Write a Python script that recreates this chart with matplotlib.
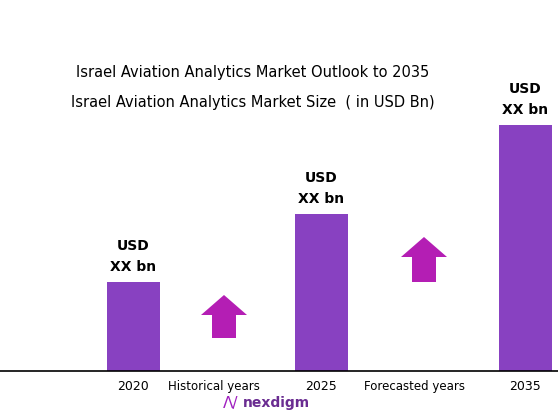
import matplotlib
matplotlib.use("Agg")
import matplotlib.pyplot as plt
from matplotlib.patches import FancyArrow

years = ["2020", "2025", "2035"]
values = [89, 157, 246]
bar_labels = ["USD\nXX bn", "USD\nXX bn", "USD\nXX bn"]
period_labels = ["Historical years", "Forecasted years"]
title1 = "Israel Aviation Analytics Market Outlook to 2035"
title2 = "Israel Aviation Analytics Market Size  ( in USD Bn)"

W, H = 558, 415
base = H - 371
xpos = [133, 321, 525]

fig = plt.figure(figsize=(5.58, 4.15), dpi=100)
ax = fig.add_axes([0, 0, 1, 1])
ax.set_xlim(0, W); ax.set_ylim(0, H); ax.axis("off")

ax.bar(xpos, values, width=53, bottom=base, color="#8841C1")
for x, v, l in zip(xpos, values, bar_labels):
    ax.text(x, base + v + 8, l, ha="center", va="bottom", fontsize=10,
            fontweight="bold", linespacing=1.6)
ax.plot([0, W], [base, base], color="black", lw=1.2)
for x, y in zip(xpos, years):
    ax.text(x, H - 386, y, ha="center", va="center", fontsize=9)
ax.text(214, H - 386, period_labels[0], ha="center", va="center", fontsize=8.5)
ax.text(414, H - 386, period_labels[1], ha="center", va="center", fontsize=8.5)

for cx, ytop, ybot in [(224, 295, 338), (424, 237, 282)]:
    ax.add_patch(FancyArrow(cx, H - ybot, 0, ybot - ytop, width=24,
                            head_width=46, head_length=20,
                            length_includes_head=True, color="#B41EB4", lw=0))

ax.text(253, H - 73, title1, ha="center", va="center", fontsize=10.5)
ax.text(253, H - 102, title2, ha="center", va="center", fontsize=10.5)
ax.text(243, H - 403, "nexdigm", ha="left", va="center", fontsize=10,
        color="#6A2C91", fontweight="bold")
ax.text(238, H - 403, "\u039b/", ha="right", va="center", fontsize=11,
        color="#A020C0")
fig.savefig("out.png", dpi=100)
